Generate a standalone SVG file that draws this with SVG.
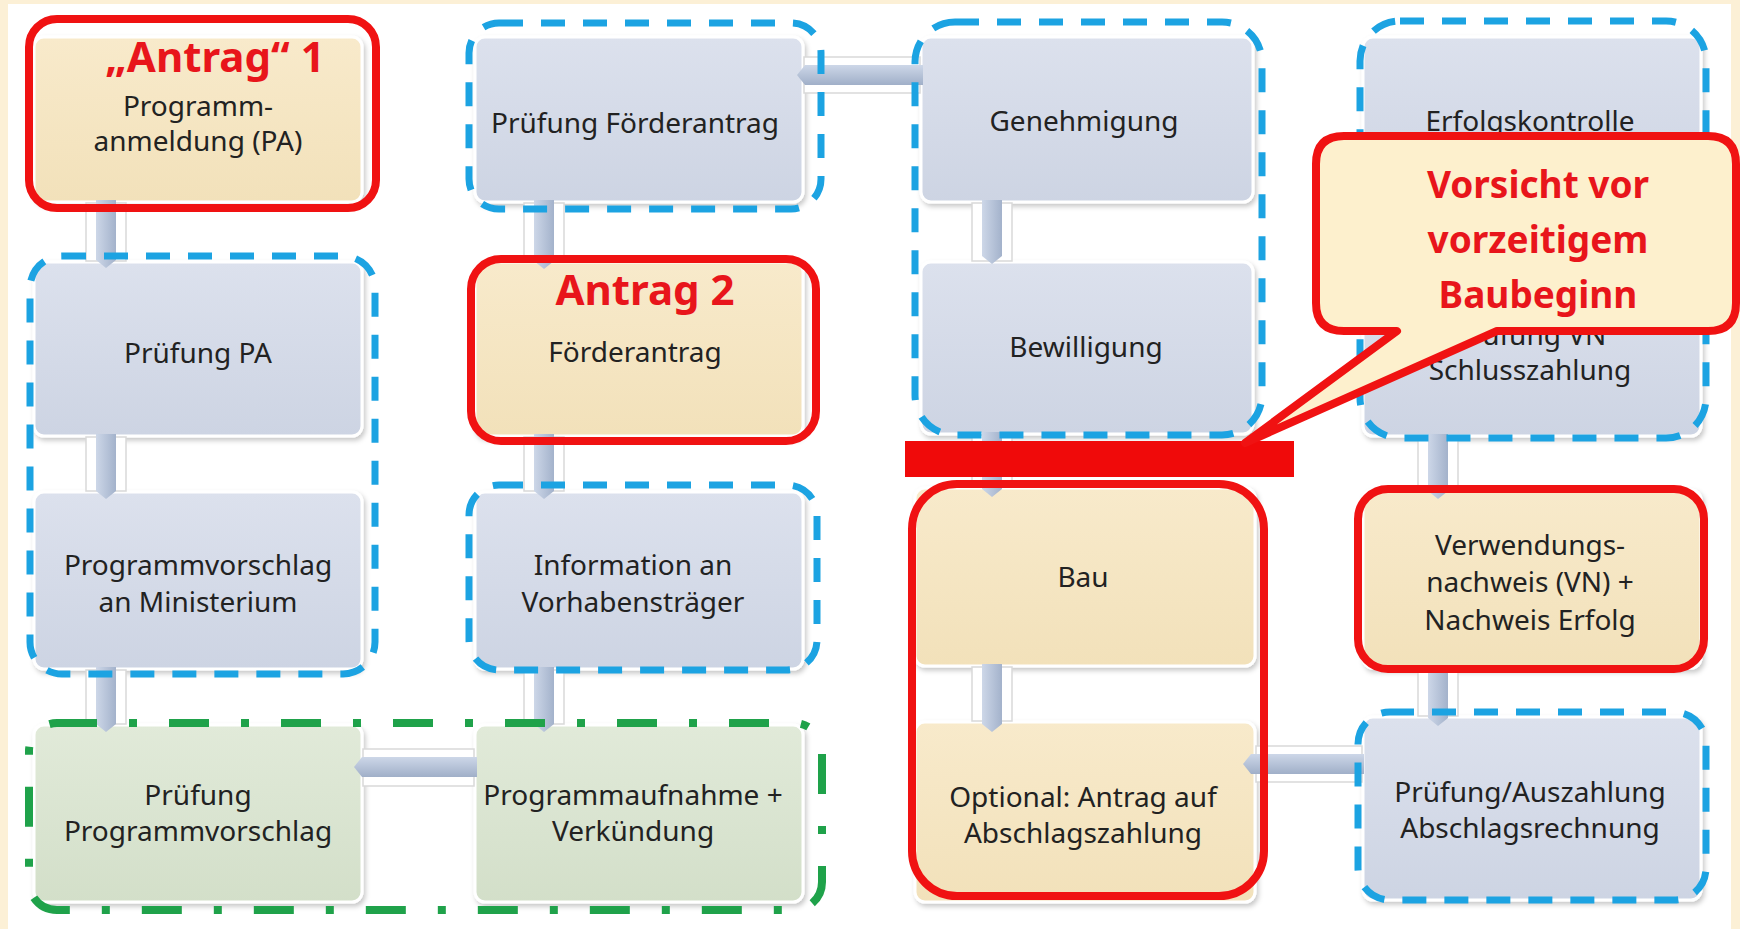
<svg xmlns="http://www.w3.org/2000/svg" width="1740" height="929" viewBox="0 0 1740 929">
<defs>
  <linearGradient id="gBlue" x1="0" y1="0" x2="0" y2="1"><stop offset="0" stop-color="#DCE1ED"/><stop offset="1" stop-color="#CDD4E3"/></linearGradient>
  <linearGradient id="gBeige" x1="0" y1="0" x2="0" y2="1"><stop offset="0" stop-color="#F8EACB"/><stop offset="1" stop-color="#F2E1BA"/></linearGradient>
  <linearGradient id="gGreen" x1="0" y1="0" x2="0" y2="1"><stop offset="0" stop-color="#E1EAD9"/><stop offset="1" stop-color="#D3DFC9"/></linearGradient>
  <linearGradient id="gBarV" x1="0" y1="0" x2="1" y2="0"><stop offset="0" stop-color="#CDD7E8"/><stop offset="1" stop-color="#A3B2CB"/></linearGradient>
  <linearGradient id="gBarH" x1="0" y1="0" x2="0" y2="1"><stop offset="0" stop-color="#CDD7E8"/><stop offset="1" stop-color="#A0AFC8"/></linearGradient>
  <filter id="sh" x="-10%" y="-10%" width="120%" height="125%"><feDropShadow dx="2" dy="3" stdDeviation="2.5" flood-color="#000" flood-opacity="0.22"/></filter>
</defs>
<style>
  .node{stroke:#fff;stroke-width:3;filter:url(#sh)}
  .blue{fill:url(#gBlue)}
  .beige{fill:url(#gBeige)}
  .green{fill:url(#gGreen)}
  .t{font-family:"Noto Sans","Open Sans","DejaVu Sans",sans-serif;font-size:28px;fill:#222222;text-anchor:middle}
  .tb{font-family:"Noto Sans","Open Sans","DejaVu Sans",sans-serif;font-weight:bold;fill:#E8151B;text-anchor:middle}
  .band{fill:#fff;stroke:#D9D9D9;stroke-width:1.5}
  .barV{fill:url(#gBarV)}
  .barH{fill:url(#gBarH)}
  .hlRed{fill:none;stroke:#F01212;stroke-width:8}
  .hlBlue{fill:none;stroke:#1CA3E2;stroke-width:7;stroke-dasharray:24 18}
  .hlGreen{fill:none;stroke:#1FA24A;stroke-width:8;stroke-dasharray:40 32 8 32}
</style>
<rect x="0" y="0" width="1740" height="929" fill="#FCF0D6"/>
<rect x="8" y="4" width="1723" height="925" fill="#FFFFFF"/>

<g id="nodes">
  <g id="n-antrag1"><rect class="node beige" x="34" y="37" width="328" height="165" rx="10"/>
    <text class="tb" x="215" y="72" font-size="42">„Antrag“ 1</text>
    <text class="t" x="198" y="116">Programm-</text>
    <text class="t" x="198" y="151">anmeldung (PA)</text></g>
  <g id="n-pruefung-pa"><rect class="node blue" x="34" y="262" width="328" height="174" rx="10"/>
    <text class="t" x="198" y="363">Prüfung PA</text></g>
  <g id="n-programmvorschlag"><rect class="node blue" x="34" y="492" width="328" height="177" rx="10"/>
    <text class="t" x="198" y="575">Programmvorschlag</text>
    <text class="t" x="198" y="612">an Ministerium</text></g>
  <g id="n-pruefung-pv"><rect class="node green" x="34" y="725" width="328" height="177" rx="10"/>
    <text class="t" x="198" y="805">Prüfung</text>
    <text class="t" x="198" y="841">Programmvorschlag</text></g>

  <g id="n-pruefung-fa"><rect class="node blue" x="475" y="37" width="328" height="165" rx="10"/>
    <text class="t" x="635" y="133">Prüfung Förderantrag</text></g>
  <g id="n-antrag2"><rect class="node beige" x="475" y="262" width="328" height="174" rx="10"/>
    <text class="tb" x="645" y="305" font-size="42">Antrag 2</text>
    <text class="t" x="635" y="362">Förderantrag</text></g>
  <g id="n-information"><rect class="node blue" x="475" y="492" width="328" height="177" rx="10"/>
    <text class="t" x="633" y="575">Information an</text>
    <text class="t" x="633" y="612">Vorhabensträger</text></g>
  <g id="n-programmaufnahme"><rect class="node green" x="475" y="725" width="328" height="177" rx="10"/>
    <text class="t" x="633" y="805">Programmaufnahme +</text>
    <text class="t" x="633" y="841">Verkündung</text></g>

  <g id="n-genehmigung"><rect class="node blue" x="921" y="37" width="332" height="165" rx="10"/>
    <text class="t" x="1084" y="131">Genehmigung</text></g>
  <g id="n-bewilligung"><rect class="node blue" x="921" y="262" width="332" height="172" rx="10"/>
    <text class="t" x="1086" y="357">Bewilligung</text></g>
  <g id="n-bau"><rect class="node beige" x="915" y="488" width="340" height="178" rx="10"/>
    <text class="t" x="1083" y="587">Bau</text></g>
  <g id="n-optional"><rect class="node beige" x="915" y="722" width="340" height="180" rx="10"/>
    <text class="t" x="1083" y="807">Optional: Antrag auf</text>
    <text class="t" x="1083" y="843">Abschlagszahlung</text></g>

  <g id="n-erfolgskontrolle"><rect class="node blue" x="1363" y="37" width="338" height="165" rx="10"/>
    <text class="t" x="1530" y="131">Erfolgskontrolle</text></g>
  <g id="n-pruefung-vn"><rect class="node blue" x="1363" y="262" width="338" height="174" rx="10"/>
    <text class="t" x="1530" y="345">Prüfung VN</text>
    <text class="t" x="1530" y="380">Schlusszahlung</text></g>
  <g id="n-verwendungsnachweis"><rect class="node beige" x="1363" y="490" width="338" height="178" rx="10"/>
    <text class="t" x="1530" y="555">Verwendungs-</text>
    <text class="t" x="1530" y="592">nachweis (VN) +</text>
    <text class="t" x="1530" y="630">Nachweis Erfolg</text></g>
  <g id="n-pruefung-auszahlung"><rect class="node blue" x="1363" y="717" width="338" height="183" rx="10"/>
    <text class="t" x="1530" y="802">Prüfung/Auszahlung</text>
    <text class="t" x="1530" y="838">Abschlagsrechnung</text></g>
</g>

<g id="connectors">
  <rect class="band" x="86" y="203" width="40" height="58"/>
  <path class="barV" d="M96 200 H116 V260 L106 268 L96 260 Z"/>
  <rect class="band" x="86" y="437" width="40" height="54"/>
  <path class="barV" d="M96 434 H116 V491 L106 499 L96 491 Z"/>
  <rect class="band" x="86" y="670" width="40" height="54"/>
  <path class="barV" d="M96 667 H116 V724 L106 732 L96 724 Z"/>
  <rect class="band" x="524" y="203" width="40" height="58"/>
  <path class="barV" d="M534 200 H554 V261 L544 269 L534 261 Z"/>
  <rect class="band" x="524" y="437" width="40" height="54"/>
  <path class="barV" d="M534 434 H554 V491 L544 499 L534 491 Z"/>
  <rect class="band" x="524" y="670" width="40" height="54"/>
  <path class="barV" d="M534 667 H554 V724 L544 732 L534 724 Z"/>
  <rect class="band" x="972" y="203" width="40" height="58"/>
  <path class="barV" d="M982 200 H1002 V256 L992 264 L982 256 Z"/>
  <rect class="band" x="972" y="435" width="40" height="52"/>
  <path class="barV" d="M982 432 H1002 V489 L992 497 L982 489 Z"/>
  <rect class="band" x="972" y="667" width="40" height="54"/>
  <path class="barV" d="M982 664 H1002 V724 L992 732 L982 724 Z"/>
  <rect class="band" x="1418" y="437" width="40" height="52"/>
  <path class="barV" d="M1428 434 H1448 V491 L1438 499 L1428 491 Z"/>
  <rect class="band" x="1418" y="669" width="40" height="47"/>
  <path class="barV" d="M1428 666 H1448 V718 L1438 726 L1428 718 Z"/>
  <rect class="band" x="804" y="57" width="116" height="36"/>
  <path class="barH" d="M797 75 L805 65 H923 V85 H805 Z"/>
  <rect class="band" x="363" y="749" width="111" height="37"/>
  <path class="barH" d="M354 767 L362 757 H477 V777 H362 Z"/>
  <rect class="band" x="1256" y="746" width="106" height="36"/>
  <path class="barH" d="M1243 764 L1251 754 H1364 V774 H1251 Z"/>
</g>

<g id="highlights">
  <rect class="hlBlue" x="30" y="256" width="345" height="418" rx="32"/>
  <rect class="hlBlue" x="469" y="23" width="352" height="186" rx="30"/>
  <rect class="hlBlue" x="469" y="485" width="348" height="185" rx="30"/>
  <rect class="hlBlue" x="915" y="22" width="347" height="413" rx="40"/>
  <rect class="hlBlue" x="1360" y="21" width="346" height="417" rx="40"/>
  <rect class="hlBlue" x="1358" y="712" width="348" height="188" rx="32"/>
  <rect class="hlGreen" x="29" y="723" width="793" height="187" rx="28"/>
  <rect class="hlRed" x="29" y="19" width="347" height="189" rx="28"/>
  <rect class="hlRed" x="471" y="259" width="345" height="182" rx="30"/>
  <rect class="hlRed" x="912" y="484" width="352" height="412" rx="45"/>
  <rect class="hlRed" x="1358" y="489" width="346" height="180" rx="30"/>
  <rect x="905" y="441" width="389" height="36" fill="#F00A0A"/>
</g>

<g id="callout">
  <path d="M1344 136 H1708 Q1736 136 1736 164 V303 Q1736 331 1708 331 H1497 L1245 443 L1397 331 H1344 Q1316 331 1316 303 V164 Q1316 136 1344 136 Z" fill="#FDF0CD" stroke="#F01212" stroke-width="8" stroke-linejoin="round"/>
  <text class="tb" x="1538" y="198" font-size="37">Vorsicht vor</text>
  <text class="tb" x="1538" y="253" font-size="37">vorzeitigem</text>
  <text class="tb" x="1538" y="308" font-size="37">Baubeginn</text>
</g>
</svg>
